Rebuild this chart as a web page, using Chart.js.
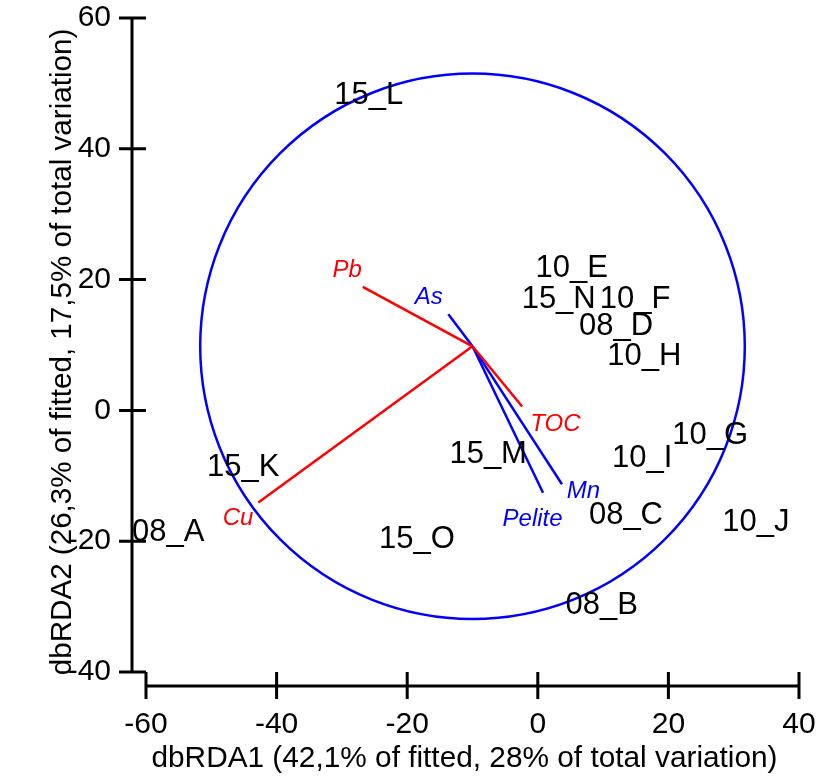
<!DOCTYPE html>
<html>
<head>
<meta charset="utf-8">
<script src="https://cdn.jsdelivr.net/npm/chart.js@4"></script>
<style>
  html, body { margin: 0; padding: 0; background: #fff; }
</style>
</head>
<body>
<canvas id="rda" width="834" height="779"></canvas>
<script>
/* ---------- data ---------- */
const siteNames = ["08_A", "08_B", "08_C", "08_D", "10_E", "10_F", "10_G", "10_H", "10_I", "10_J", "15_K", "15_L", "15_M", "15_N", "15_O"]
const siteX = [-56.6, 9.8, 13.5, 12.0, 5.2, 14.9, 26.4, 16.3, 16.0, 33.4, -45.1, -25.9, -7.6, 3.2, -18.5]
const siteY = [-18.7, -29.9, -16.1, 12.8, 21.7, 16.9, -3.9, 8.2, -7.4, -17.2, -8.7, 48.1, -6.7, 16.9, -19.8]

// vectors start at the centroid
const origin = { x: -10, y: 9.8 }
const vecNames = ["Pb", "As", "TOC", "Mn", "Pelite", "Cu"]
const vecX = [-26.8, -13.7, -2.4, 3.7, 0.8, -42.8]
const vecY = [18.9, 14.7, 0.6, -11.3, -12.6, -14.1]
const vecLabelX = [-29.2, -16.7, 2.7, 7.0, -0.8, -45.9]
const vecLabelY = [21.4, 17.3, -2.1, -12.3, -16.6, -16.5]
const vecColors = ["#ff0000", "#0000ff", "#ff0000", "#0000ff", "#0000ff", "#ff0000"]

const circleRadius = 41.7

const xTicks = [-60, -40, -20, 0, 20, 40]
const yTicks = [-40, -20, 0, 20, 40, 60]

const xTitle = "dbRDA1 (42,1% of fitted, 28% of total variation)"
const yTitle = "dbRDA2 (26,3% of fitted, 17,5% of total variation)"

/* ---------- helpers ---------- */
const FONT = "'Liberation Sans', Arial, sans-serif"

const vecSets = vecNames.map((n, i) => ({
  type: "line",
  label: n,
  data: [{ x: origin.x, y: origin.y }, { x: vecX[i], y: vecY[i] }],
  borderColor: vecColors[i],
  borderWidth: 2.5,
  pointRadius: 0,
  fill: false
}))

const sitesSet = {
  type: "scatter",
  label: "sites",
  data: siteNames.map((n, i) => ({ x: siteX[i], y: siteY[i] })),
  pointRadius: 0
}

// drop the automatic label overflow padding so the plot area stays put
const fixPad = (s, size) => {
  if (s.isHorizontal()) s.height = size
  else s.width = size
  s.paddingTop = s.paddingBottom = s.paddingLeft = s.paddingRight = 0
}

/* circle, axes, titles and text labels */
const overlay = {
  id: "overlay",
  beforeDatasetsDraw(chart) {
    const { ctx, scales: { x, y } } = chart
    const cx = x.getPixelForValue(origin.x)
    const cy = y.getPixelForValue(origin.y)
    const rx = x.getPixelForValue(origin.x + circleRadius) - cx
    const ry = cy - y.getPixelForValue(origin.y + circleRadius)
    ctx.save()
    ctx.strokeStyle = "#0000ff"
    ctx.lineWidth = 2.5
    ctx.beginPath()
    ctx.ellipse(cx, cy, rx, ry, 0, 0, Math.PI * 2)
    ctx.stroke()
    ctx.restore()
  },
  afterDatasetsDraw(chart) {
    const { ctx, chartArea: a, scales: { x, y } } = chart
    ctx.save()
    // axes
    ctx.strokeStyle = "#000"
    ctx.lineWidth = 3
    ctx.beginPath()
    ctx.moveTo(a.left - 14, y.getPixelForValue(60))
    ctx.lineTo(a.left - 14, y.getPixelForValue(-40))
    yTicks.forEach(v => {
      const py = y.getPixelForValue(v)
      ctx.moveTo(a.left - 27, py)
      ctx.lineTo(a.left, py)
    })
    ctx.moveTo(x.getPixelForValue(-60), a.bottom + 14)
    ctx.lineTo(x.getPixelForValue(40), a.bottom + 14)
    xTicks.forEach(v => {
      const px = x.getPixelForValue(v)
      ctx.moveTo(px, a.bottom)
      ctx.lineTo(px, a.bottom + 27)
    })
    ctx.stroke()

    // axis titles
    ctx.fillStyle = "#000"
    ctx.textAlign = "center"
    ctx.textBaseline = "middle"
    ctx.font = "29.8px " + FONT
    ctx.fillText(xTitle, (a.left + a.right) / 2 - 8, a.bottom + 87)
    ctx.save()
    ctx.translate(63, (a.top + a.bottom) / 2 + 7)
    ctx.rotate(-Math.PI / 2)
    ctx.font = "29.6px " + FONT
    ctx.fillText(yTitle, 0, 0)
    ctx.restore()

    // site labels
    ctx.font = "31px " + FONT
    siteNames.forEach((n, i) => {
      ctx.fillText(n, x.getPixelForValue(siteX[i]), y.getPixelForValue(siteY[i]))
    })

    // vector labels
    ctx.font = "italic 24px " + FONT
    vecNames.forEach((n, i) => {
      ctx.fillStyle = vecColors[i]
      ctx.fillText(n, x.getPixelForValue(vecLabelX[i]), y.getPixelForValue(vecLabelY[i]))
    })
    ctx.restore()
  }
}

new Chart(document.getElementById("rda"), {
  type: "scatter",
  data: { datasets: [sitesSet, ...vecSets] },
  plugins: [overlay],
  options: {
    responsive: false,
    animation: false,
    layout: { padding: { top: 18, right: 35, left: 0, bottom: 0 } },
    plugins: { legend: { display: false }, tooltip: { enabled: false } },
    scales: {
      x: {
        type: "linear",
        min: -60,
        max: 40,
        afterFit: s => fixPad(s, 107),
        afterBuildTicks: s => { s.ticks = xTicks.map(v => ({ value: v })) },
        grid: { display: false },
        border: { display: false },
        ticks: { color: "#000", padding: 27, font: { family: FONT, size: 30 } }
      },
      y: {
        type: "linear",
        min: -40,
        max: 60,
        afterFit: s => fixPad(s, 146),
        afterBuildTicks: s => { s.ticks = yTicks.map(v => ({ value: v })) },
        grid: { display: false },
        border: { display: false },
        ticks: { color: "#000", padding: 27, font: { family: FONT, size: 30 } }
      }
    }
  }
})
</script>
</body>
</html>
